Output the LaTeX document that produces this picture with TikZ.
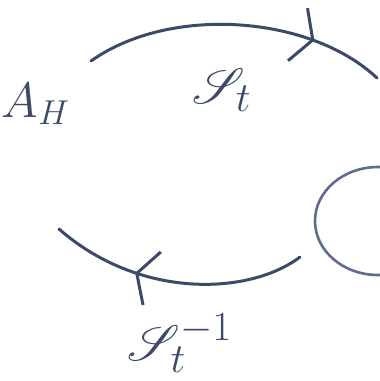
\documentclass[tikz,border=0pt]{standalone}
\usepackage{mathrsfs}
\usetikzlibrary{arrows.meta,decorations.markings}
\definecolor{ink}{HTML}{3B4A66}
\definecolor{inklight}{HTML}{5E6D8C}
\tikzset{
  pen/.style={draw=ink,line width=1.5pt,line cap=round},
  lbl/.style={text=ink,inner sep=0pt,font=\fontsize{26}{30}\selectfont},
  biglbl/.style={lbl,font=\fontsize{32}{36}\selectfont},
  midarrow/.style={postaction={decorate,decoration={markings,
     mark=at position #1 with {\arrow[ink,line width=1.5pt,line cap=round]{Straight Barb[length=8pt,width=28pt]}}}}}
}
\begin{document}
\begin{tikzpicture}[x=0.5pt,y=-0.5pt]
\useasboundingbox (0,0) rectangle (380,381);
\fill[white] (0,0) rectangle (380,381);
\coordinate (ts) at (91,61);
\coordinate (te) at (377,78);
\coordinate (bs) at (300,257);
\coordinate (be) at (59,229);
\node[lbl] (A) at (36,104) {$A_{H}$};
\node[biglbl] (S) at (222,90) {$\mathscr{S}_{t}$};
\node[biglbl] (Si) at (180,343) {$\mathscr{S}_{t}^{-1}$};
\draw[pen,midarrow=0.76] (ts) .. controls (170,5) and (310,15) .. (te);
\draw[pen,midarrow=0.66] (bs) .. controls (250,295) and (140,300) .. (be);
\begin{scope}
\clip (0,0) rectangle (380,381);
\draw[draw=inklight,line width=1.3pt] (378,221) ellipse [x radius=63,y radius=54];
\end{scope}
\end{tikzpicture}
\end{document}
